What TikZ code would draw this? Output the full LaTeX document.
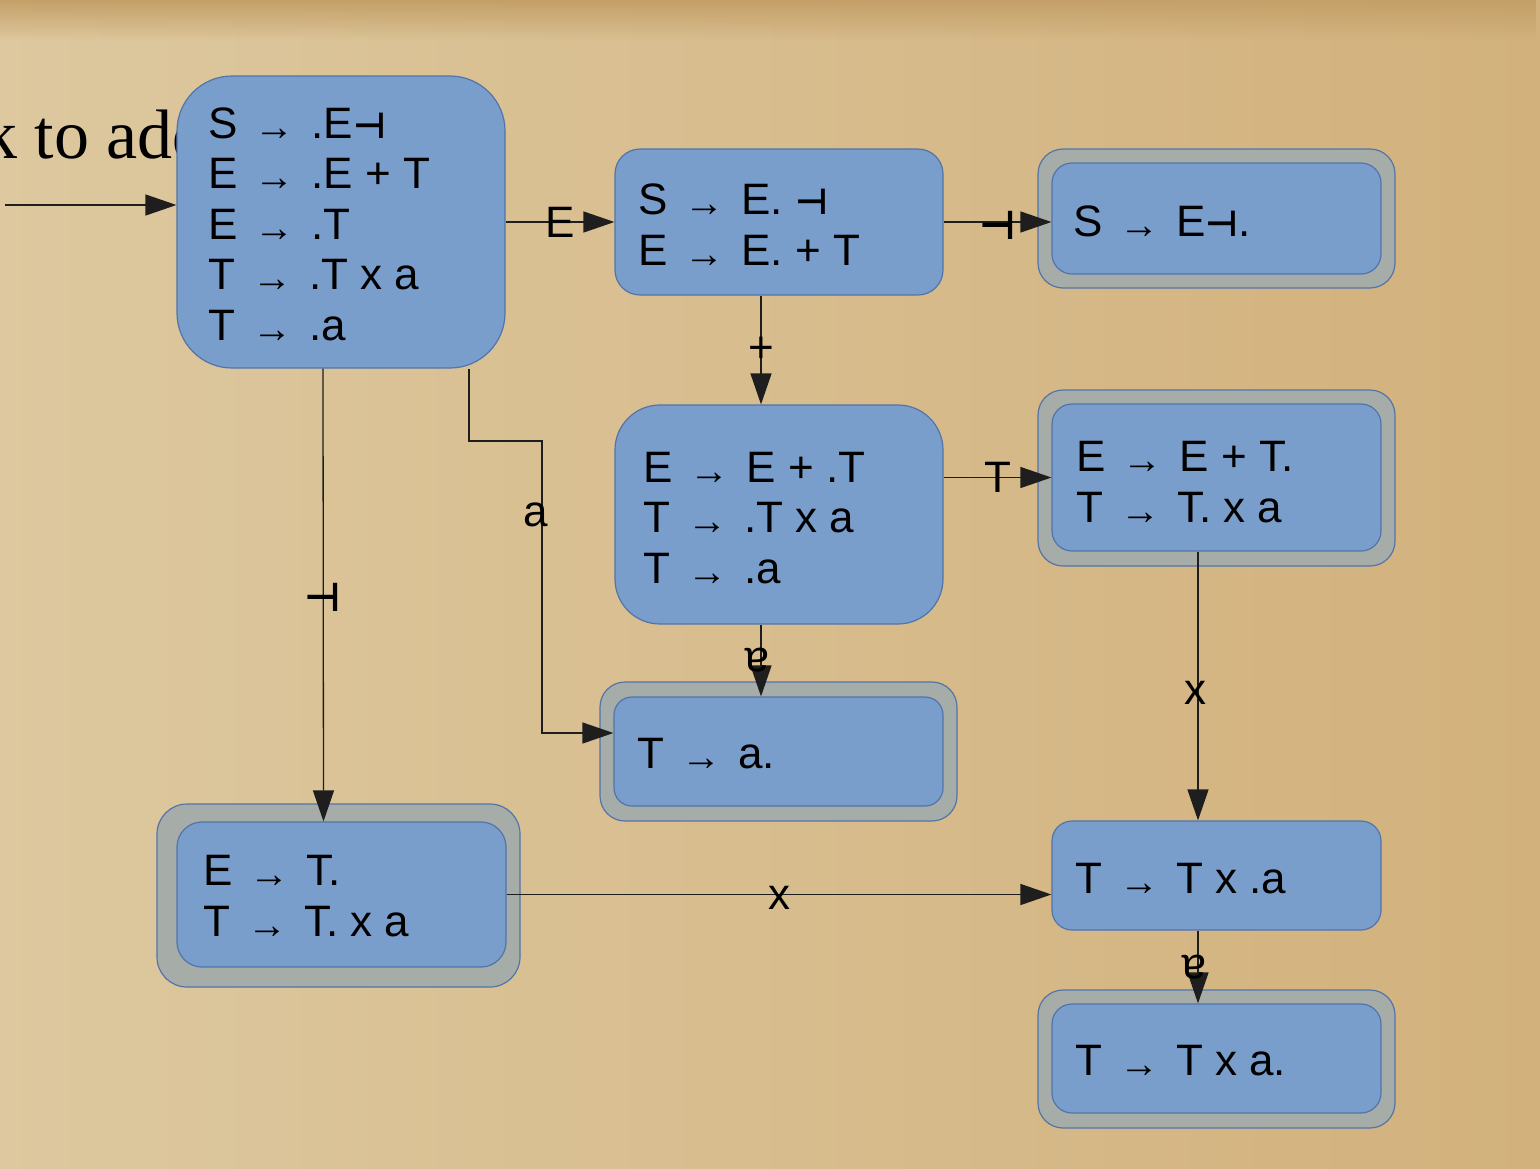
\documentclass[tikz,border=0pt]{standalone}
\usepackage{fontspec}
\setmainfont{Liberation Sans}
\newfontfamily\seriffnt{Liberation Serif}
\newfontfamily\symfnt{DejaVu Sans}
\usetikzlibrary{arrows.meta,fadings}
\definecolor{boxfill}{RGB}{122,158,203}
\definecolor{boxline}{RGB}{82,116,170}
\definecolor{ringfill}{RGB}{166,172,168}
\definecolor{bgleft}{RGB}{221,200,159}
\definecolor{bgright}{RGB}{210,177,124}
\definecolor{bgtop}{RGB}{196,160,104}
\definecolor{edgeclr}{RGB}{30,30,30}
\newcommand\rar{\hspace{17pt}\raisebox{-2pt}{\fontsize{40}{40}\selectfont →}\hspace{17pt}}
\newcommand\tack{{\symfnt\bfseries\fontsize{36}{36}\selectfont ⊣}}
\newcommand\bigtack{{\symfnt\bfseries\fontsize{40}{40}\selectfont ⊣}}
\tikzfading[name=topband, top color=transparent!0, bottom color=transparent!100]
\tikzset{
  state/.style={draw=boxline, fill=boxfill, line width=1.2pt, inner sep=0pt},
  ring/.style={draw=boxline, fill=ringfill, line width=1.2pt, inner sep=0pt},
  items/.style={font=\fontsize{44}{50.5}\selectfont, align=left, inner sep=0pt, anchor=base west},
  edge/.style={draw=edgeclr, line width=1.3pt, -{Triangle[length=31pt,width=21pt]}},
  elabel/.style={font=\fontsize{44}{44}\selectfont, inner sep=0pt},
}
\begin{document}
\begin{tikzpicture}[x=1pt,y=-1pt]
\useasboundingbox (0,0) rectangle (1540,1168);
\shade[left color=bgleft, right color=bgright] (0,0) rectangle (1540,1168);
\fill[bgtop, path fading=topband] (0,0) rectangle (1540,40);

% title fragment behind the first state
\node[font=\seriffnt\fontsize{70}{70}\selectfont, anchor=base west, inner sep=0pt] (title) at (-18,158) {k to add};

% states
\node[state, rounded corners=55pt, minimum width=328pt, minimum height=292pt] (A) at (341,222) {};
\node[state, rounded corners=25pt, minimum width=328pt, minimum height=146pt] (B) at (779,222) {};
\node[ring, rounded corners=25pt, minimum width=357pt, minimum height=139pt] (Cout) at (1216.5,218.5) {};
\node[state, rounded corners=20pt, minimum width=329pt, minimum height=111pt] (Cin) at (1216.5,218.5) {};
\node[state, rounded corners=45pt, minimum width=328pt, minimum height=219pt] (D) at (779,514.5) {};
\node[ring, rounded corners=25pt, minimum width=357pt, minimum height=176pt] (Eout) at (1216.5,478) {};
\node[state, rounded corners=20pt, minimum width=329pt, minimum height=147pt] (Ein) at (1216.5,477.5) {};
\node[ring, rounded corners=25pt, minimum width=357pt, minimum height=139pt] (Fout) at (778.5,751.5) {};
\node[state, rounded corners=18pt, minimum width=329pt, minimum height=109pt] (Fin) at (778.5,751.5) {};
\node[ring, rounded corners=30pt, minimum width=363pt, minimum height=183pt] (Gout) at (338.5,895.5) {};
\node[state, rounded corners=25pt, minimum width=329pt, minimum height=145pt] (Gin) at (341.5,894.5) {};
\node[state, rounded corners=20pt, minimum width=329pt, minimum height=109pt] (H) at (1216.5,875.5) {};
\node[ring, rounded corners=25pt, minimum width=357pt, minimum height=138pt] (Iout) at (1216.5,1059) {};
\node[state, rounded corners=20pt, minimum width=329pt, minimum height=109pt] (Iin) at (1216.5,1058.5) {};

% item texts (anchor = baseline of the last line)
\node[items] (tA) at (208,340) {S\rar.E\tack\\E\rar.E + T\\E\rar.T\\T\rar.T x a\\T\rar.a};
\node[items] (tB) at (638,265) {S\rar E. \tack\\E\rar E. + T};
\node[items] (tC) at (1073,236) {S\rar E\tack.};
\node[items] (tD) at (643,583) {E\rar E + .T\\T\rar .T x a\\T\rar .a};
\node[items] (tE) at (1076,522) {E\rar E + T.\\T\rar T. x a};
\node[items] (tF) at (637,768) {T\rar a.};
\node[items] (tG) at (203,936) {E\rar T.\\T\rar T. x a};
\node[items] (tH) at (1075,893) {T\rar T x .a};
\node[items] (tI) at (1075,1075) {T\rar T x a.};

% connectors
\coordinate (s0) at (5,205);
\draw[edge] (s0) -- (s0 -| A.west);
\draw[edge] (A.east) -- node[elabel] (lE) {E} (B.west);
\draw[edge] (B.east) -- node[elabel, yshift=-3pt] (lT1) {\bigtack} (B.east -| Cin.west);
\draw[edge] ([xshift=-18pt]B.south) -- node[elabel] (lP) {+} ([xshift=-18pt]D.north);
\draw[edge] (D.east |- Ein.west) -- node[elabel] (lT) {T} (Ein.west);
\coordinate (aj) at (542,441);
\draw[edge] ([xshift=128pt]A.south) |- (aj) |- ([yshift=18.5pt]Fin.west);
\node[elabel] (la) at (536,515) {a};
\draw[edge] ([xshift=-18pt]A.south) -- node[elabel, yshift=-2pt] (lT2) {\bigtack} ([xshift=-18pt]Gin.north);
\draw[edge] ([xshift=-18pt]D.south) -- node[elabel, rotate=180, xshift=4pt] (la2) {a} ([xshift=-17.5pt]Fin.north);
\draw[edge] ([xshift=-18.5pt]Ein.south) -- node[elabel, xshift=-3pt, yshift=-7pt] (lx1) {x} ([xshift=-18.5pt]H.north);
\draw[edge] (Gin.east) -- node[elabel, yshift=-3pt] (lx2) {x} (Gin.east -| H.west);
\draw[edge] ([xshift=-18.5pt]H.south) -- node[elabel, rotate=180, xshift=4pt] (la3) {a} ([xshift=-18.5pt]Iin.north);
\end{tikzpicture}
\end{document}
